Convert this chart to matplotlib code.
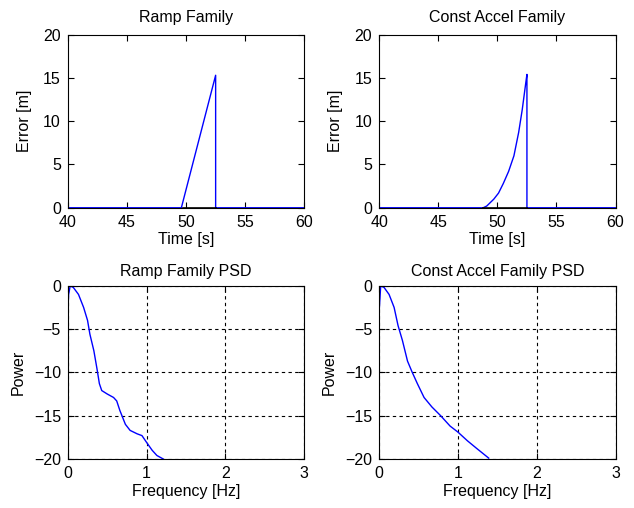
import matplotlib.pyplot as plt

plt.rcParams['font.family'] = ['Liberation Sans', 'DejaVu Sans']

# error traces (time [s], error [m])
ramp_t = [40, 49.6, 52.5, 52.5, 60]
ramp_e = [0, 0, 15.3, 0, 0]
accel_t = [40, 48.8, 49.1, 49.7, 50.1, 50.5, 50.95, 51.4, 51.8, 52.1, 52.4, 52.5, 52.5, 60]
accel_e = [0, 0, 0.2, 1.0, 1.7, 2.8, 4.2, 6.0, 8.7, 11.3, 14.4, 15.4, 0, 0]
ramp_truth_t = [49.7, 52.5]
accel_truth_t = [48.8, 52.5]
truth_e = [0, 0]

# PSD curves (frequency [Hz], power)
ramp_f = [0, 0.01, 0.03, 0.07, 0.135, 0.2, 0.25, 0.28, 0.33, 0.37, 0.4, 0.43, 0.5,
          0.58, 0.62, 0.66, 0.73, 0.79, 0.88, 0.94, 1.0, 1.07, 1.13, 1.21]
ramp_p = [-2.9, -1.0, 0, -0.2, -1.0, -2.5, -4.0, -5.6, -7.5, -9.6, -11.3, -12.1, -12.5,
          -12.9, -13.3, -14.4, -16.0, -16.7, -17.1, -17.3, -18.1, -19.0, -19.6, -20]
accel_f = [0, 0.01, 0.02, 0.063, 0.126, 0.19, 0.24, 0.295, 0.36, 0.42, 0.485, 0.57,
           0.67, 0.78, 0.9, 1.0, 1.12, 1.24, 1.39]
accel_p = [-2.9, -1.5, 0, -0.2, -1.0, -2.5, -4.6, -6.3, -8.7, -10.0, -11.3, -12.9,
           -14.0, -15.0, -16.2, -16.9, -17.9, -18.8, -19.9]

fig = plt.figure(figsize=(6.34, 5.08), dpi=100)
w, h = 0.373, 0.341
axs = [fig.add_axes([0.107, 0.591, w, h]), fig.add_axes([0.598, 0.591, w, h]),
       fig.add_axes([0.107, 0.0965, w, h]), fig.add_axes([0.598, 0.0965, w, h])]

fs = 11.5
for ax in axs:
    ax.tick_params(direction='in', top=True, right=True, labelsize=fs, length=4)
    ax.tick_params(axis='x', pad=5)
    ax.tick_params(axis='y', pad=5)
    for s in ax.spines.values():
        s.set_linewidth(0.8)

for ax, t, e, tt, title in [(axs[0], ramp_t, ramp_e, ramp_truth_t, 'Ramp Family'),
                            (axs[1], accel_t, accel_e, accel_truth_t, 'Const Accel Family')]:
    ax.plot(t, e, color='#0000ff', lw=1.0)
    ax.plot(tt, truth_e, color='black', lw=1.2)
    ax.set_xlim(40, 60)
    ax.set_ylim(0, 20)
    ax.set_xticks([40, 45, 50, 55, 60])
    ax.set_yticks([0, 5, 10, 15, 20])
    ax.set_title(title, fontsize=fs, pad=9)
    ax.set_xlabel('Time [s]', fontsize=fs, labelpad=2)
    ax.set_ylabel('Error [m]', fontsize=fs, labelpad=8)

for ax, f, p, title in [(axs[2], ramp_f, ramp_p, 'Ramp Family PSD'),
                        (axs[3], accel_f, accel_p, 'Const Accel Family PSD')]:
    ax.plot(f, p, color='#0000ff', lw=1.0)
    ax.set_xlim(0, 3)
    ax.set_ylim(-20, 0)
    ax.set_xticks([0, 1, 2, 3])
    ax.set_yticks([-20, -15, -10, -5, 0])
    ax.grid(True, color='black', linestyle=(0, (3, 3)), lw=0.8)
    ax.set_title(title, fontsize=fs, pad=7)
    ax.set_xlabel('Frequency [Hz]', fontsize=fs, labelpad=2)
    ax.set_ylabel('Power', fontsize=fs, labelpad=6)

fig.savefig('out.png', dpi=100)
